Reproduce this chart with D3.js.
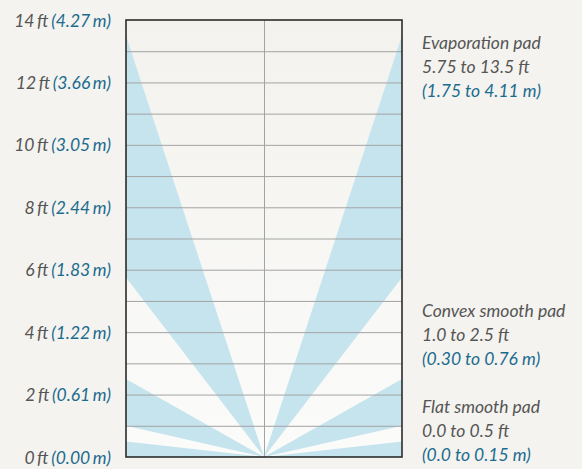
<!DOCTYPE html>
<html>
<head>
<meta charset="utf-8">
<script src="https://cdn.jsdelivr.net/npm/d3@7"></script>
<style>
body { margin: 0; background: #f4f3ef; }
svg { display: block; }
.grid line { stroke: #a3a3a3; stroke-width: 1px; }
.lbl { font-family: Lato, sans-serif; font-style: italic; font-size: 17.5px; fill: #555555; }
.lbl .m { fill: #1b6b8e; }
.yl { word-spacing: -1.5px; }
</style>
</head>
<body>
<svg width="582" height="469"></svg>
<script>
// heights in feet
var ftTicks = [0, 2, 4, 6, 8, 10, 12, 14];
var mLabels = ["0.00", "0.61", "1.22", "1.83", "2.44", "3.05", "3.66", "4.27"];
var padNames = ["Evaporation pad", "Convex smooth pad", "Flat smooth pad"];
var padLow = [5.75, 1.0, 0.0];
var padHigh = [13.5, 2.5, 0.5];
var padFt = ["5.75 to 13.5 ft", "1.0 to 2.5 ft", "0.0 to 0.5 ft"];
var padM = ["(1.75 to 4.11 m)", "(0.30 to 0.76 m)", "(0.0 to 0.15 m)"];
var padLabelY = [49, 317, 413];

var svg = d3.select("svg");
var x = d3.scaleLinear().domain([-1, 1]).range([126, 402]);
var y = d3.scaleLinear().domain([0, 14]).range([457, 20]);

var defs = svg.append("defs");
var grad = defs.append("linearGradient").attr("id", "bg").attr("x1", 0).attr("y1", 0).attr("x2", 0).attr("y2", 1);
grad.append("stop").attr("offset", "0%").attr("stop-color", "#f3f2ee");
grad.append("stop").attr("offset", "100%").attr("stop-color", "#fbfbfa");

svg.append("rect").attr("x", x(-1)).attr("y", y(14)).attr("width", x(1) - x(-1)).attr("height", y(0) - y(14)).attr("fill", "url(#bg)");

// wedges from the bottom centre out to both sides
var wedges = [];
padLow.forEach(function(lo, i) {
  [-1, 1].forEach(function(side) {
    wedges.push([[0, 0], [side, lo], [side, padHigh[i]]]);
  });
});
var line = d3.line().x(function(d) { return x(d[0]); }).y(function(d) { return y(d[1]); });
svg.append("g").selectAll("path").data(wedges).enter().append("path")
  .attr("d", function(d) { return line(d) + "Z"; })
  .attr("fill", "#c6e4ee");

var grid = svg.append("g").attr("class", "grid");
grid.selectAll(".h").data(d3.range(1, 14)).enter().append("line")
  .attr("x1", x(-1)).attr("x2", x(1)).attr("y1", function(d) { return y(d) + 0.5; }).attr("y2", function(d) { return y(d) + 0.5; });
grid.append("line").attr("x1", x(0) + 0.5).attr("x2", x(0) + 0.5).attr("y1", y(14)).attr("y2", y(0));

svg.append("rect").attr("x", x(-1)).attr("y", y(14)).attr("width", x(1) - x(-1)).attr("height", y(0) - y(14))
  .attr("fill", "none").attr("stroke", "#2b2b2b").attr("stroke-width", 1.6);

// y labels
var yl = svg.append("g").selectAll("text").data(ftTicks).enter().append("text")
  .attr("class", "lbl yl").attr("text-anchor", "end").attr("x", 111)
  .attr("y", function(d) { return y(d) + 6.5; });
yl.append("tspan").text(function(d) { return d + " ft "; });
yl.append("tspan").attr("class", "m").text(function(d, i) { return "(" + mLabels[i] + " m)"; });

// pad annotations
padNames.forEach(function(name, i) {
  var t = svg.append("text").attr("class", "lbl").attr("x", 422).attr("y", padLabelY[i]);
  t.append("tspan").attr("x", 422).text(name);
  t.append("tspan").attr("x", 422).attr("dy", 24).text(padFt[i]);
  t.append("tspan").attr("x", 422).attr("dy", 24).attr("class", "m").text(padM[i]);
});
</script>
</body>
</html>
